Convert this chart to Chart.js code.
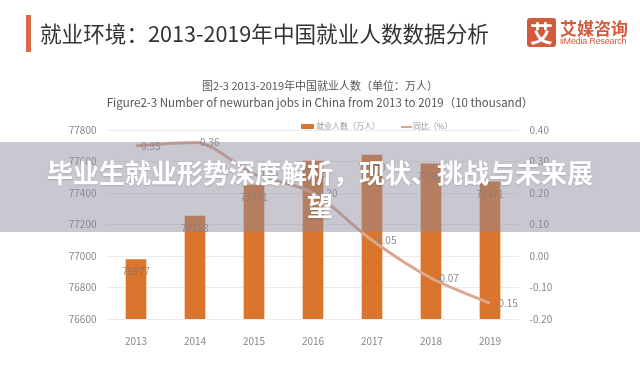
<!DOCTYPE html>
<html>
<head>
<meta charset="utf-8">
<script src="https://cdn.jsdelivr.net/npm/chart.js@4"></script>
<style>
  body { margin: 0; background: #fff; font-family: "Noto Sans CJK SC", "Noto Sans", sans-serif; }
  #wrap { position: relative; width: 640px; height: 374px; overflow: hidden; }
  #chart { position: absolute; left: 0; top: 0; }
  .abs { position: absolute; white-space: nowrap; }
  #bar { left: 26px; top: 15px; width: 5px; height: 37px; background: #d9694a; }
  #head { left: 40px; top: 19px; font-size: 21.6px; line-height: 28px; color: #333; }
  #logoBox { left: 527px; top: 18px; width: 29px; height: 29px; background: #d25b3c; border-radius: 3px;
    color: #fff; font-weight: bold; font-size: 23px; line-height: 29px; text-align: center; }
  #logoCn { left: 560px; top: 17px; font-size: 17px; line-height: 22px; font-weight: bold; color: #d25b3c; }
  #logoEn { left: 560px; top: 36px; font-size: 9px; line-height: 11px; color: #d25b3c; font-family: "Liberation Sans", sans-serif; letter-spacing: -0.2px; }
  #t1 { left: 0; width: 640px; text-align: center; top: 77px; font-size: 11px; line-height: 16px; color: #555; }
  #t2 { left: 0; width: 640px; text-align: center; top: 94px; font-size: 11.5px; line-height: 17px; color: #555; }
  .leg { top: 120px; font-size: 8px; line-height: 12px; color: #999; }
  #banner { position: absolute; left: 0; top: 142px; width: 640px; height: 90px; box-sizing: border-box;
    padding: 13px 45px 0; background: rgba(140,136,155,0.47); color: #fff; font-weight: bold;
    font-size: 26px; line-height: 33px; text-align: center; text-shadow: 0 1px 2px rgba(0,0,0,0.15); }
</style>
</head>
<body>
<div id="wrap">
  <canvas id="chart" width="640" height="374"></canvas>
  <div class="abs" id="bar"></div>
  <div class="abs" id="head">就业环境：2013-2019年中国就业人数数据分析</div>
  <div class="abs" id="logoBox">艾</div>
  <div class="abs" id="logoCn">艾媒咨询</div>
  <div class="abs" id="logoEn">iiMedia Research</div>
  <div class="abs" id="t1">图2-3 2013-2019年中国就业人数（单位：万人）</div>
  <div class="abs" id="t2">Figure2-3 Number of newurban jobs in China from 2013 to 2019（10 thousand）</div>
  <div class="abs" style="left:301px;top:124px;width:13px;height:5px;background:#d9752d;"></div>
  <div class="abs leg" style="left:316px;">就业人数（万人）</div>
  <div class="abs" style="left:401px;top:126px;width:11px;height:1.5px;background:#dba58f;"></div>
  <div class="abs leg" style="left:413px;">同比（%）</div>
  <div id="banner">毕业生就业形势深度解析，现状、挑战与未来展望</div>
</div>
<script>
const years = ['2013', '2014', '2015', '2016', '2017', '2018', '2019'];
const employed = [76977, 77253, 77451, 77603, 77640, 77586, 77471];
const yoy = [0.35, 0.36, 0.26, 0.20, 0.05, -0.07, -0.15];
const leftTicks = [76600, 76800, 77000, 77200, 77400, 77600, 77800];
const rightTicks = [-0.20, -0.10, 0.00, 0.10, 0.20, 0.30, 0.40];

// value labels drawn at element positions
const valueLabels = {
    id: 'valueLabels',
    afterDatasetsDraw(chart) {
        const ctx = chart.ctx;
        ctx.save();
        ctx.font = '10px "Noto Sans CJK SC", sans-serif';
        const barMeta = chart.getDatasetMeta(1);
        ctx.fillStyle = 'rgba(130,110,105,0.75)';
        ctx.textAlign = 'center';
        ctx.textBaseline = 'middle';
        barMeta.data.forEach((el, i) => {
            ctx.fillText(employed[i], el.x, el.y + 12);
        });
        const lineMeta = chart.getDatasetMeta(0);
        ctx.fillStyle = '#8a8a8a';
        ctx.textAlign = 'left';
        lineMeta.data.forEach((el, i) => {
            ctx.fillText(yoy[i].toFixed(2), el.x + 5, el.y);
        });
        ctx.restore();
    }
};

const tickFont = { size: 10, family: '"Noto Sans CJK SC", sans-serif' };

new Chart(document.getElementById('chart'), {
    type: 'bar',
    data: {
        labels: years,
        datasets: [
            {
                type: 'line',
                label: '同比（%）',
                data: yoy,
                yAxisID: 'y1',
                borderColor: '#dca690',
                borderWidth: 3,
                cubicInterpolationMode: 'monotone',
                pointRadius: 0,
                fill: false,
                order: 0
            },
            {
                label: '就业人数（万人）',
                data: employed,
                yAxisID: 'y',
                backgroundColor: '#d9752d',
                barThickness: 20,
                order: 1
            }
        ]
    },
    options: {
        responsive: false,
        animation: false,
        layout: { padding: { top: 130, bottom: 25, left: 0, right: 0 } },
        plugins: { legend: { display: false }, tooltip: { enabled: false } },
        scales: {
            x: {
                grid: { display: false },
                border: { display: false },
                ticks: { color: '#888', font: tickFont, padding: 8 },
                afterFit(scale) { scale.height = 30; }
            },
            y: {
                position: 'left',
                min: 76600,
                max: 77800,
                afterBuildTicks(scale) { scale.ticks = leftTicks.map(v => ({ value: v })); },
                grid: { color: '#ececec', drawTicks: false },
                border: { display: false },
                ticks: { color: '#888', font: tickFont, padding: 10, callback: v => String(v) },
                afterFit(scale) { scale.width = 106.5; }
            },
            y1: {
                position: 'right',
                min: -0.2,
                max: 0.4,
                afterBuildTicks(scale) { scale.ticks = rightTicks.map(v => ({ value: v })); },
                grid: { display: false, drawTicks: false },
                border: { display: false },
                ticks: { color: '#888', font: tickFont, padding: 10, callback: v => Number(v).toFixed(2) },
                afterFit(scale) { scale.width = 120.5; }
            }
        }
    },
    plugins: [valueLabels]
});
</script>
</body>
</html>
